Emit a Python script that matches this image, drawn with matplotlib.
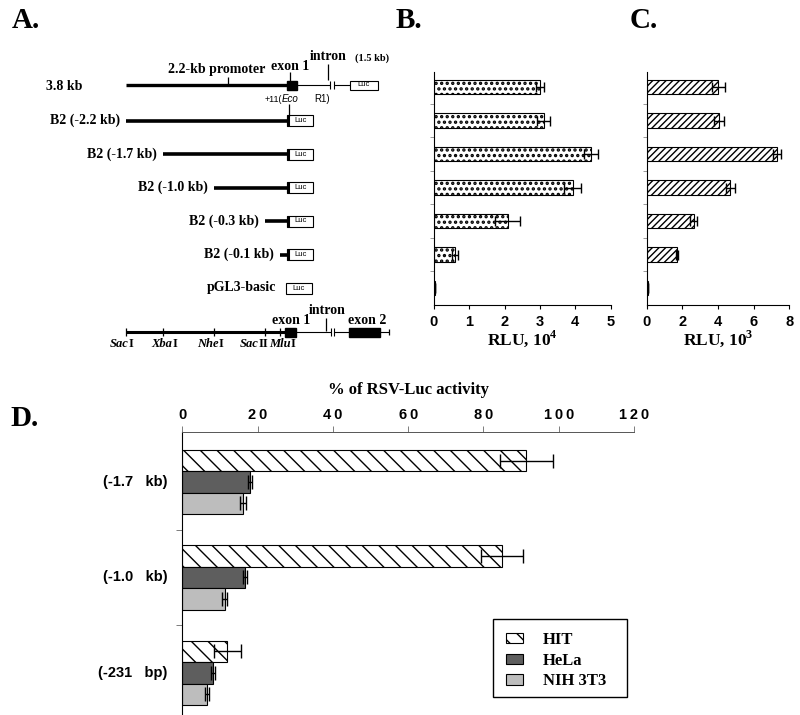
import matplotlib.pyplot as plt
from matplotlib.patches import Rectangle

# ---- data ----
construct_labels = ['B2 (-2.2 kb)', 'B2 (-1.7 kb)', 'B2 (-1.0 kb)', 'B2 (-0.3 kb)', 'B2 (-0.1 kb)']
construct_starts = [-2.2, -1.7, -1.0, -0.3, -0.1]   # kb, relative to +11 (EcoR1)

rlu_b = [3.0, 3.1, 4.45, 3.92, 2.08, 0.59, 0.02]      # RLU, 10^4
rlu_b_err = [0.1, 0.18, 0.2, 0.25, 0.36, 0.09, 0.0]
rlu_c = [4.02, 4.07, 7.31, 4.7, 2.63, 1.7, 0.08]      # RLU, 10^3
rlu_c_err = [0.37, 0.28, 0.25, 0.24, 0.18, 0.06, 0.02]
rlu_b_ticks = [0, 1, 2, 3, 4, 5]
rlu_c_ticks = [0, 2, 4, 6, 8]

d_groups = ['(-1.7   kb)', '(-1.0   kb)', '(-231   bp)']
d_cells = ['HIT', 'HeLa', 'NIH 3T3']
hit = [91.4, 84.9, 12.0]
hit_err = [7.0, 5.5, 3.6]
hela = [18.0, 16.6, 8.2]
hela_err = [0.6, 0.5, 0.6]
nih = [16.2, 11.3, 6.6]
nih_err = [0.8, 0.7, 0.5]
d_ticks = [0, 20, 40, 60, 80, 100, 120]

site_italic = ['Sac', 'Xba', 'Nhe', 'Sac', 'Mlu']
site_roman = ['I', 'I', 'I', 'II', 'I']

# ---- style ----
plt.rcParams['font.family'] = 'Liberation Serif'
plt.rcParams['font.weight'] = 'bold'
plt.rcParams['axes.labelweight'] = 'bold'
plt.rcParams['mathtext.fontset'] = 'custom'
plt.rcParams['mathtext.rm'] = 'Liberation Serif:bold'
plt.rcParams['mathtext.bf'] = 'Liberation Serif:bold'
sans = 'Liberation Sans'

W, H = 800, 715
fig = plt.figure(figsize=(W / 100, H / 100), dpi=100)


def px_axes(x0, y0, x1, y1):
    return fig.add_axes([x0 / W, 1 - y1 / H, (x1 - x0) / W, (y1 - y0) / H])


# ---- panel A: construct diagram (x in kb, y in pixels) ----
KB = 73.0      # pixels per kb
X0 = 287.0     # pixel position of +11
axa = fig.add_axes([0, 0, 1, 1])
axa.set_xlim(-X0 / KB, (W - X0) / KB)
axa.set_ylim(H, 0)
axa.axis('off')

rows_y = [87 + 33.5 * i for i in range(7)]
map_y = 332


def line(x0, x1, y, lw):
    axa.plot([x0, x1], [y, y], color='black', lw=lw, solid_capstyle='butt')


def vtick(x, y0, y1, lw=0.9):
    axa.plot([x, x], [y0, y1], color='black', lw=lw, solid_capstyle='butt')


def luc(x0, x1, y, h):
    axa.add_patch(Rectangle((x0, y - h / 2), x1 - x0, h, fill=False, ec='black', lw=0.8))
    axa.text((x0 + x1) / 2, y, 'Luc', family=sans, fontsize=5.5, weight='normal',
             ha='center', va='center')


def intron_break(x, y):
    vtick(x, y - 4, y + 4, 0.8)
    vtick(x + 0.05, y - 4, y + 4, 0.8)


# 3.8 kb row
y = rows_y[0] - 2
axa.text(-3.30, y + 2, '3.8 kb', fontsize=10, ha='left', va='center')
line(-2.2, 0, y, 2.4)
axa.add_patch(Rectangle((0, y - 4.5), 0.14, 9, color='black'))
line(0.14, 0.59, y, 0.8)
intron_break(0.59, y)
line(0.64, 0.86, y, 0.8)
luc(0.86, 1.25, y, 9)
vtick(-0.81, y - 8, y)
axa.text(-0.96, 70, '2.2-kb promoter', fontsize=10, ha='center', va='center')
vtick(0.04, y - 13, y - 4)
axa.text(0.04, 67, 'exon 1', fontsize=10, ha='center', va='center')
vtick(0.56, y - 21, y - 5)
axa.text(0.56, 57, 'intron', fontsize=10, ha='center', va='center')
axa.text(1.16, 58, '(1.5 kb)', fontsize=7.5, ha='center', va='center')
axa.text(-0.07, y + 14, '+11(', family=sans, fontsize=6.5, weight='normal', ha='right', va='center')
axa.text(-0.07, y + 14, 'Eco', family=sans, fontsize=7, weight='normal', style='italic',
         ha='left', va='center')
axa.text(0.38, y + 14, 'R1)', family=sans, fontsize=7, weight='normal', ha='left', va='center')
vtick(0.03, y + 19, rows_y[1] - 5)

# deletion constructs
for i, (lab, st) in enumerate(zip(construct_labels, construct_starts)):
    yy = rows_y[i + 1]
    line(st, 0, yy, 2.6)
    vtick(0.01, yy - 5.5, yy + 5.5, 2.2)
    luc(0, 0.36, yy, 11)
    axa.text(st - 0.08, yy, lab, fontsize=10, ha='right', va='center')

yy = rows_y[6]
luc(-0.01, 0.34, yy, 11)
axa.text(-0.15, yy, 'pGL3-basic', fontsize=10, ha='right', va='center')

# restriction map
line(construct_starts[0], 0, map_y, 2.2)
for st in construct_starts:
    vtick(st, map_y - 4, map_y + 4)
axa.add_patch(Rectangle((-0.03, map_y - 4.5), 0.15, 9, color='black'))
line(0.12, 0.60, map_y, 0.8)
intron_break(0.60, map_y)
line(0.65, 1.40, map_y, 0.8)
axa.add_patch(Rectangle((0.85, map_y - 4.5), 0.42, 9, color='black'))
vtick(1.40, map_y - 3, map_y + 3)
vtick(0.53, map_y - 14, map_y - 1)
axa.text(0.05, 321, 'exon 1', fontsize=10, ha='center', va='center')
axa.text(0.55, 310, 'intron', fontsize=10, ha='center', va='center')
axa.text(1.10, 321, 'exon 2', fontsize=10, ha='center', va='center')
split_x = [-2.17, -1.57, -0.94, -0.39, 0.05]
for sx, it, rm in zip(split_x, site_italic, site_roman):
    axa.text(sx, 344, it, fontsize=9, style='italic', ha='right', va='center')
    axa.text(sx, 344, rm, fontsize=9, ha='left', va='center')

# panel letters
for lx, ly, letter in [(12, 20, 'A.'), (396, 20, 'B.'), (630, 20, 'C.'), (10, 418, 'D.')]:
    fig.text(lx / W, 1 - ly / H, letter, fontsize=21, ha='left', va='center')


# ---- panels B and C ----
def rlu_panel(ax, vals, errs, ticks, hatch, hatch_lw, xlabel):
    ys = list(range(len(vals)))
    bars = ax.barh(ys, vals, height=0.42, color='white', edgecolor='black', hatch=hatch, lw=0.8)
    for b in bars:
        b.set_hatch_linewidth(hatch_lw)
    ax.errorbar(vals, ys, xerr=errs, fmt='none', ecolor='black', elinewidth=1, capsize=3.5)
    ax.set_ylim(6.507, -0.448)
    ax.set_xlim(ticks[0], ticks[-1])
    ax.set_xticks(ticks)
    ax.set_xticklabels([str(t) for t in ticks], family=sans, fontsize=10.5)
    ax.set_yticks([i + 0.5 for i in range(6)])
    ax.set_yticklabels([])
    ax.tick_params(axis='y', length=3, width=0.6, color='#888888')
    ax.tick_params(axis='x', length=3, width=0.8, pad=4)
    for s in ['top', 'right']:
        ax.spines[s].set_visible(False)
    ax.spines['left'].set_linewidth(0.8)
    ax.spines['bottom'].set_linewidth(0.8)
    ax.set_facecolor('none')
    ax.set_xlabel(xlabel, fontsize=12.5, labelpad=0)


axb = px_axes(434, 72, 610.7, 305)
rlu_panel(axb, rlu_b, rlu_b_err, rlu_b_ticks, '...', 1.6, 'RLU, 10$^4$')
axc = px_axes(646.7, 72, 789.3, 305)
rlu_panel(axc, rlu_c, rlu_c_err, rlu_c_ticks, '/////', 1.0, 'RLU, 10$^3$')


# ---- panel D ----
axd = px_axes(182.3, 432, 634.0, 715)
gy = list(range(len(d_groups)))
bh = 0.225
b1 = axd.barh([g - bh for g in gy], hit, height=bh, color='white', edgecolor='black',
              hatch='\\\\', lw=0.8, label=d_cells[0])
b2 = axd.barh(gy, hela, height=bh, color='#5e5e5e', edgecolor='black', lw=0.8, label=d_cells[1])
b3 = axd.barh([g + bh for g in gy], nih, height=bh, color='#bdbdbd', edgecolor='black', lw=0.8,
              label=d_cells[2])
axd.errorbar(hit, [g - bh for g in gy], xerr=hit_err, fmt='none', ecolor='black', elinewidth=1, capsize=5)
axd.errorbar(hela, gy, xerr=hela_err, fmt='none', ecolor='black', elinewidth=1, capsize=5)
axd.errorbar(nih, [g + bh for g in gy], xerr=nih_err, fmt='none', ecolor='black', elinewidth=1, capsize=5)
axd.set_xlim(0, 120)
axd.set_ylim(2.44, -0.5236)
axd.xaxis.tick_top()
axd.set_xticks(d_ticks)
axd.set_xticklabels(['\u2009'.join(str(t)) for t in d_ticks], family=sans, fontsize=10.5)
axd.tick_params(axis='x', length=4, width=0.6, color='#666666', pad=3)
axd.xaxis.set_label_position('top')
axd.set_xlabel('% of RSV-Luc activity', fontsize=12, labelpad=10)
axd.set_yticks([0.5, 1.5])
axd.set_yticklabels([])
axd.tick_params(axis='y', length=4, width=0.6, color='#666666')
for g, lab in zip(gy, d_groups):
    axd.text(-4, g, lab, family=sans, fontsize=10.5, ha='right', va='center')
for s in ['bottom', 'right']:
    axd.spines[s].set_visible(False)
axd.spines['top'].set_linewidth(0.7)
axd.spines['top'].set_color('#555555')
axd.spines['left'].set_linewidth(0.8)
axd.set_facecolor('none')

leg = axd.legend(handles=[b1, b2, b3], labels=d_cells, loc='upper left',
                 bbox_to_anchor=(506 / W, 1 - 632 / H), bbox_transform=fig.transFigure,
                 frameon=False, prop={'family': 'Liberation Serif', 'weight': 'bold', 'size': 12},
                 handlelength=1.0, handleheight=0.6, borderpad=0, labelspacing=0.28,
                 handletextpad=1.2, borderaxespad=0)
fig.patches.append(Rectangle((492.7 / W, 1 - 696.7 / H), 134 / W, 77.7 / H, fill=False,
                             ec='black', lw=1.0, transform=fig.transFigure, figure=fig))

fig.savefig('out.png', dpi=100)
